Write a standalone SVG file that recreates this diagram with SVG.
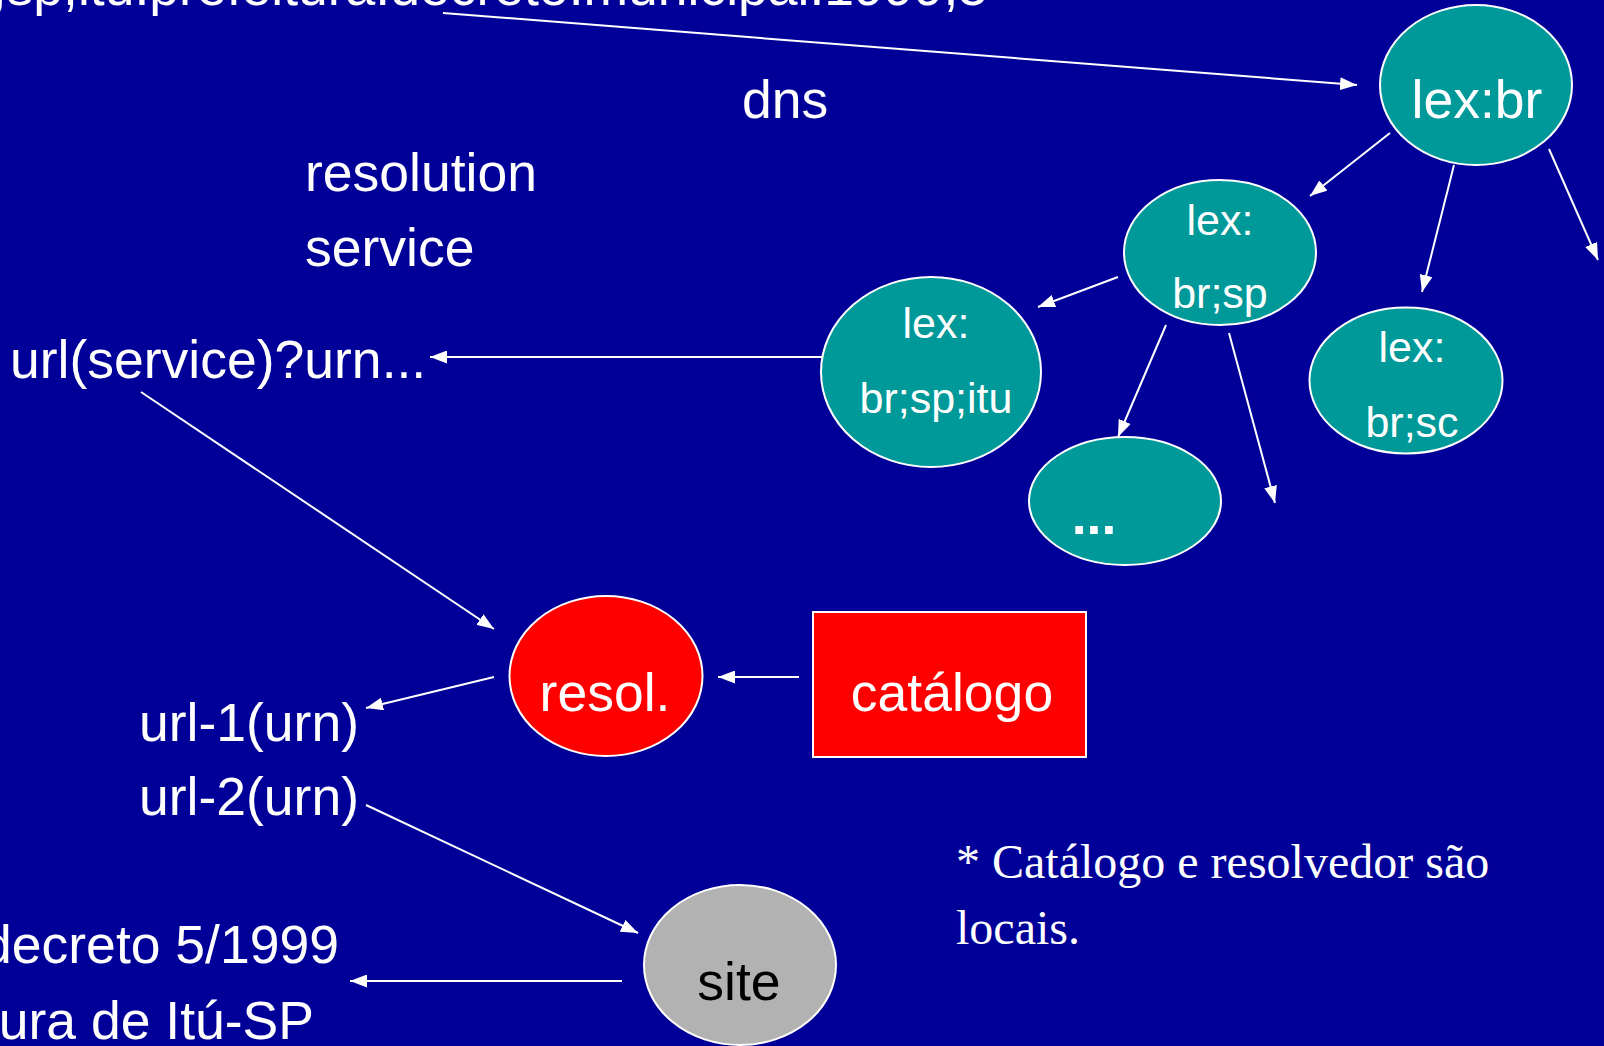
<svg xmlns="http://www.w3.org/2000/svg" width="1604" height="1046" viewBox="0 0 1604 1046">
<defs>
<style>
.t{font-family:"Liberation Sans",Arial,sans-serif;fill:#fff;font-size:53.5px}
.s{font-size:43px}
.c{text-anchor:middle}
.tn{fill:#009999;stroke:#fff;stroke-width:2}
.cn{stroke:#fff;stroke-width:2;fill:none;marker-end:url(#ah)}
.note{font-family:"Liberation Serif","Times New Roman",serif;fill:#fff;font-size:48px}
</style>
<marker id="ah" viewBox="0 0 17 13" refX="17" refY="6.5" markerWidth="17" markerHeight="13" markerUnits="userSpaceOnUse" orient="auto">
<path d="M0,0 L17,6.5 L0,13 z" fill="#fff"/>
</marker>
</defs>
<rect width="1604" height="1046" fill="#000099"/>

<g id="labels">
<text class="t" x="988" y="5" text-anchor="end">;sp;itu:prefeitura:decreto.municipal:1999;5</text>
<text class="t" x="742" y="118">dns</text>
<text class="t" x="305" y="191">resolution</text>
<text class="t" x="305" y="266">service</text>
<text class="t" x="10" y="378">url(service)?urn...</text>
<text class="t" x="139" y="741">url-1(urn)</text>
<text class="t" x="139" y="815">url-2(urn)</text>
<text class="t" x="339" y="963" text-anchor="end">decreto 5/1999</text>
<text class="t" x="314" y="1039" text-anchor="end">ura de Itú-SP</text>
<text class="note" x="956" y="878">* Catálogo e resolvedor são</text>
<text class="note" x="956" y="944">locais.</text>
</g>

<g id="connectors">
<line class="cn" x1="443" y1="13" x2="1357" y2="85"/>
<line class="cn" x1="1390" y1="133" x2="1310" y2="196"/>
<line class="cn" x1="1454" y1="165" x2="1422" y2="292"/>
<line class="cn" x1="1549" y1="149" x2="1598" y2="260"/>
<line class="cn" x1="1118" y1="277" x2="1038" y2="307"/>
<line class="cn" x1="1166" y1="325" x2="1118" y2="437"/>
<line class="cn" x1="1229" y1="333" x2="1275" y2="503"/>
<line class="cn" x1="830" y1="357" x2="430" y2="357"/>
<line class="cn" x1="141" y1="392" x2="494" y2="629"/>
<line class="cn" x1="494" y1="677" x2="366" y2="708"/>
<line class="cn" x1="366" y1="805" x2="638" y2="933"/>
<line class="cn" x1="622" y1="981" x2="350" y2="981"/>
<line class="cn" x1="799" y1="677" x2="718" y2="677"/>
</g>

<g id="lex-br">
<ellipse class="tn" cx="1476" cy="85" rx="96" ry="80"/>
<text class="t c" x="1477" y="118">lex:br</text>
</g>
<g id="lex-br-sp">
<ellipse class="tn" cx="1220" cy="252.5" rx="96" ry="72.5"/>
<text class="t s c" x="1220" y="235">lex:</text>
<text class="t s c" x="1220" y="308">br;sp</text>
</g>
<g id="lex-br-sp-itu">
<ellipse class="tn" cx="931" cy="372" rx="110" ry="95"/>
<text class="t s c" x="936" y="338">lex:</text>
<text class="t s c" x="936" y="413">br;sp;itu</text>
</g>
<g id="lex-etc">
<ellipse class="tn" cx="1125" cy="501" rx="96" ry="64"/>
<text class="t c" x="1094" y="534" font-weight="bold">...</text>
</g>
<g id="lex-br-sc">
<ellipse class="tn" cx="1406" cy="380.5" rx="96.5" ry="73"/>
<text class="t s c" x="1412" y="362">lex:</text>
<text class="t s c" x="1412" y="437">br;sc</text>
</g>
<g id="resol">
<ellipse cx="606" cy="676" rx="96.5" ry="80" fill="#ff0000" stroke="#fff" stroke-width="2"/>
<text class="t c" x="605" y="711">resol.</text>
</g>
<g id="catalogo">
<rect x="813" y="612" width="273" height="145" fill="#ff0000" stroke="#fff" stroke-width="2"/>
<text class="t c" x="952" y="711">catálogo</text>
</g>
<g id="site">
<ellipse cx="740" cy="965" rx="96" ry="80" fill="#b2b2b2" stroke="#fff" stroke-width="2"/>
<text class="t c" x="739" y="1000" style="fill:#000">site</text>
</g>
</svg>
